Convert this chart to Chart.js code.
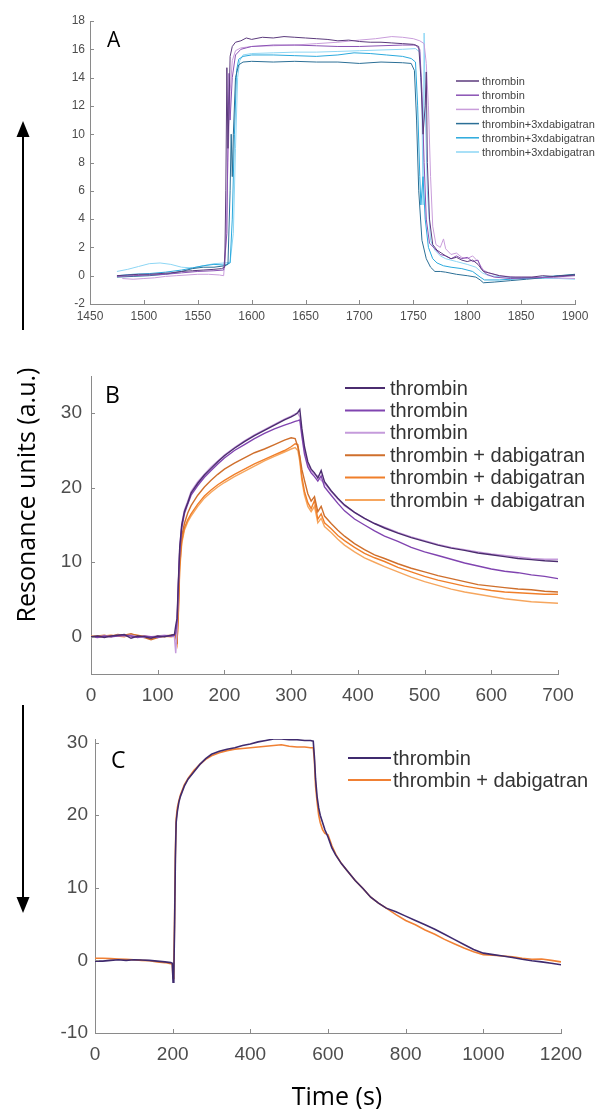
<!DOCTYPE html>
<html>
<head>
<meta charset="utf-8">
<script src="https://cdn.jsdelivr.net/npm/chart.js@4.4.1/dist/chart.umd.min.js"></script>
<style>
  body { margin: 0; background: #fff; }
  #page { position: relative; width: 601px; height: 1109px; overflow: hidden; background: #fff; }
  canvas.panel { position: absolute; left: 0; }
  .title { position: absolute; font-family: "Open Sans", sans-serif; color: #000; white-space: nowrap; line-height: 1; }
  #ytitle { left: 25px; top: 495px; font-size: 25px; transform: translate(-50%, -50%) rotate(-90deg); }
  #xtitle { left: 337px; top: 1095px; font-size: 25px; transform: translate(-50%, -50%); }
</style>
</head>
<body>
<div id="page">
  <canvas id="chartA" class="panel" width="601" height="335" style="top:0px"></canvas>
  <canvas id="chartB" class="panel" width="601" height="370" style="top:340px"></canvas>
  <canvas id="chartC" class="panel" width="601" height="350" style="top:720px"></canvas>
  <svg width="601" height="1109" style="position:absolute;left:0;top:0;pointer-events:none">
    <line x1="23" y1="330" x2="23" y2="134" stroke="#000" stroke-width="2"/>
    <polygon points="23,121 16.5,137 29.5,137" fill="#000"/>
    <line x1="23" y1="705" x2="23" y2="900" stroke="#000" stroke-width="2"/>
    <polygon points="23,913 16.5,897 29.5,897" fill="#000"/>
  </svg>
  <div class="title" id="ytitle">Resonance units (a.u.)</div>
  <div class="title" id="xtitle">Time (s)</div>
</div>
<script>
// ---- panel A: [time, response] ----
const thrombinA1 = [[1475,0.0],[1485,0.05],[1495,0.1],[1505,0.1],[1515,0.15],[1525,0.2],[1535,0.3],[1545,0.35],[1555,0.4],[1565,0.45],[1572,0.5],[1575,0.6],[1576,6],[1577,14.7],[1578,9],[1579,12],[1580,15.5],[1582,16.2],[1585,16.5],[1590,16.6],[1595,16.8],[1600,16.7],[1610,16.85],[1620,16.8],[1630,16.9],[1640,16.85],[1650,16.8],[1660,16.75],[1670,16.7],[1680,16.6],[1690,16.65],[1700,16.55],[1710,16.5],[1720,16.5],[1730,16.45],[1740,16.4],[1750,16.35],[1755,16.2],[1757,14],[1759,10],[1761,12],[1762,14.4],[1763,8],[1765,4],[1768,2.2],[1772,1.8],[1776,1.6],[1780,1.4],[1785,1.2],[1790,1.3],[1795,1.1],[1800,1.0],[1805,1.1],[1810,0.8],[1815,0.3],[1820,0.2],[1830,0.0],[1840,-0.1],[1850,-0.1],[1860,-0.1],[1870,0.0],[1880,-0.05],[1890,0.0],[1900,0.05]];
const thrombinA2 = [[1475,-0.05],[1490,0.0],[1505,0.05],[1520,0.1],[1535,0.2],[1550,0.3],[1565,0.35],[1574,0.4],[1577,3],[1578,10],[1579,14.3],[1580,11],[1582,14],[1585,15.6],[1590,16.0],[1595,16.1],[1600,16.2],[1620,16.3],[1640,16.3],[1660,16.25],[1680,16.2],[1700,16.2],[1720,16.25],[1740,16.3],[1752,16.3],[1756,16.0],[1758,13],[1760,8],[1762,4],[1765,2.3],[1770,1.9],[1775,1.5],[1780,1.4],[1785,1.2],[1790,1.4],[1795,1.2],[1800,1.3],[1805,1.0],[1810,1.1],[1813,0.5],[1818,0.1],[1825,-0.1],[1840,-0.2],[1860,-0.15],[1880,-0.1],[1900,0.0]];
const thrombinA3 = [[1480,-0.2],[1490,-0.25],[1500,-0.2],[1510,-0.15],[1520,-0.05],[1530,0.0],[1540,0.05],[1550,0.1],[1560,0.1],[1570,0.05],[1574,0.0],[1576,2],[1578,8],[1580,13],[1582,15.2],[1585,15.9],[1590,16.1],[1600,16.2],[1620,16.25],[1640,16.3],[1660,16.4],[1680,16.5],[1700,16.65],[1715,16.75],[1730,16.9],[1740,16.85],[1750,16.75],[1756,16.6],[1760,16.4],[1762,15],[1764,12],[1766,7],[1768,3.5],[1771,2.2],[1775,2.0],[1778,2.6],[1780,1.9],[1785,1.5],[1790,1.6],[1795,1.3],[1800,1.2],[1805,1.4],[1810,1.0],[1815,0.4],[1820,0.2],[1830,0.0],[1845,-0.1],[1860,-0.1],[1880,-0.15],[1900,-0.2]];
const dabigA1 = [[1475,-0.1],[1490,-0.05],[1505,0.0],[1520,0.1],[1535,0.3],[1545,0.5],[1555,0.6],[1565,0.6],[1575,0.7],[1578,0.8],[1580,6],[1581,10.0],[1582,7],[1583,10],[1585,14],[1588,14.9],[1592,15.1],[1600,15.15],[1620,15.1],[1640,15.15],[1660,15.1],[1680,15.1],[1700,15.0],[1720,15.1],[1740,15.05],[1748,15.0],[1751,14.5],[1753,11],[1755,6],[1758,2.5],[1762,1.2],[1766,0.6],[1770,0.3],[1775,0.3],[1780,0.25],[1790,0.1],[1800,0.0],[1808,-0.1],[1812,-0.3],[1815,-0.5],[1825,-0.45],[1840,-0.35],[1855,-0.25],[1870,-0.15],[1885,0.0],[1900,0.1]];
const dabigA2 = [[1475,0.0],[1490,0.1],[1505,0.15],[1520,0.25],[1535,0.4],[1545,0.55],[1555,0.7],[1565,0.8],[1575,0.75],[1580,0.9],[1582,4],[1584,10],[1586,14.5],[1588,15.3],[1592,15.5],[1600,15.6],[1620,15.6],[1640,15.55],[1660,15.5],[1680,15.6],[1695,15.75],[1710,15.7],[1725,15.6],[1740,15.5],[1748,15.35],[1752,15.1],[1754,12],[1756,7],[1757,5.0],[1759,7],[1761,4],[1764,2],[1768,1.2],[1772,0.9],[1778,0.7],[1785,0.6],[1795,0.5],[1805,0.3],[1812,-0.1],[1816,-0.3],[1830,-0.3],[1850,-0.2],[1870,-0.1],[1885,0.0],[1900,0.05]];
const dabigA3 = [[1475,0.3],[1485,0.45],[1495,0.65],[1505,0.85],[1515,0.9],[1525,0.8],[1535,0.6],[1545,0.55],[1555,0.7],[1565,0.85],[1575,0.9],[1580,0.95],[1583,3],[1585,9],[1587,14],[1589,15.2],[1592,15.6],[1600,15.7],[1620,15.75],[1640,15.8],[1660,15.8],[1680,15.85],[1700,15.9],[1720,15.95],[1740,16.0],[1752,16.05],[1756,15.8],[1758,12],[1759,5],[1760,17.15],[1761,12],[1763,6],[1766,2.5],[1770,1.8],[1775,1.4],[1780,1.2],[1790,1.0],[1800,0.8],[1808,0.6],[1814,0.2],[1820,0.0],[1835,-0.1],[1850,-0.15],[1870,-0.2],[1885,-0.2],[1900,-0.25]];

// ---- panel B ----
const timeB = [0,10,20,30,40,50,60,70,80,90,100,110,120,125,127,129,131,133,136,140,145,150,160,170,180,190,200,215,230,245,260,275,290,300,306,310,313,316,320,325,330,335,340,345,350,360,370,380,395,410,425,440,460,480,500,520,540,560,580,600,620,640,660,680,700];
const thrombinB1 = [0.0,0.1,-0.1,0.1,0.2,0.3,-0.2,0.1,0.0,-0.2,0.1,0.0,0.2, 0.3,1.5,2.5,7.5,12.0,15.0,16.8,18.0,19.3, 20.6,21.7,22.6,23.5,24.3, 25.3,26.2,27.0,27.7,28.4,29.1, 29.5,29.8,30.1,30.5,28.0,25.5,23.5,22.5,22.0,21.3,22.3,20.8, 19.6,18.6,17.7,16.7,15.9,15.2,14.6, 13.9,13.3,12.8,12.3,11.9,11.6,11.25,11.0,10.75,10.5,10.35,10.2,10.1];
const thrombinB2 = [0.0,-0.1,0.1,0.0,0.1,0.2,0.1,-0.1,0.1,0.0,-0.1,0.1,0.1, 0.2,0.5,2.0,7.0,11.5,14.6,16.5,17.8,19.0, 20.3,21.4,22.3,23.2,24.0, 25.0,25.8,26.6,27.3,27.9,28.4, 28.7,28.9,29.0,29.1,27.0,24.5,22.8,22.0,21.5,20.9,21.6,20.1, 19.0,17.9,16.9,15.8,15.0,14.2,13.5, 12.8,12.0,11.4,10.9,10.4,9.9,9.5,9.1,8.8,8.6,8.3,8.1,7.8];
const thrombinB3 = [-0.1,0.0,0.1,0.0,0.2,0.1,0.2,0.0,-0.1,0.0,0.1,0.2,0.1, 0.0,-2.2,1.0,7.0,12.0,15.2,17.0,18.2,19.5, 20.8,21.8,22.8,23.6,24.4, 25.4,26.3,27.1,27.8,28.5,29.2, 29.6,29.9,30.0,29.5,27.5,25.0,23.2,22.3,21.8,21.6,21.0,20.6, 19.5,18.5,17.6,16.7,15.9,15.2,14.7, 14.0,13.4,12.9,12.4,12.0,11.7,11.4,11.1,10.9,10.7,10.5,10.4,10.4];
const dabigB1 = [0.0,0.1,0.2,0.0,0.3,0.2,0.4,0.1,-0.1,-0.4,-0.1,0.1,0.2, 0.3,0.1,-1.0,4.5,10.5,13.5,15.2,16.6,17.6, 19.0,20.1,21.0,21.8,22.5, 23.3,24.0,24.7,25.2,25.8,26.4, 26.7,26.6,25.5,24.2,22.5,21.0,19.2,18.2,18.8,16.8,17.5,16.2, 15.2,14.3,13.5,12.5,11.7,11.0,10.5, 9.8,9.2,8.7,8.2,7.8,7.4,7.0,6.8,6.6,6.4,6.3,6.1,6.0];
const dabigB2 = [0.0,0.0,0.1,0.2,0.1,0.0,0.3,0.2,0.0,-0.2,0.0,0.1,0.0, 0.1,0.3,-0.8,3.5,9.5,12.8,14.6,15.7,16.5, 17.8,18.9,19.7,20.4,21.0, 21.8,22.5,23.2,23.8,24.4,25.0, 25.5,25.9,25.8,24.0,21.5,19.5,18.0,17.2,18.3,15.8,16.5,15.3, 14.5,13.6,12.9,12.0,11.2,10.6,10.1, 9.3,8.7,8.1,7.6,7.2,6.8,6.5,6.2,6.0,5.9,5.8,5.7,5.7];
const dabigB3 = [0.1,0.0,0.0,0.1,0.2,0.1,0.2,0.0,0.1,-0.1,0.1,0.0,0.1, 0.2,0.0,-0.5,3.0,9.0,12.5,14.3,15.4,16.2, 17.5,18.6,19.4,20.1,20.7, 21.5,22.2,22.9,23.6,24.2,24.8, 25.2,25.4,25.0,23.5,21.0,19.0,17.5,16.8,17.5,15.3,15.9,14.8, 14.0,13.1,12.3,11.4,10.6,10.0,9.4, 8.7,8.0,7.4,6.9,6.4,6.0,5.7,5.4,5.1,4.9,4.7,4.6,4.5];

// ---- panel C ----
const timeC = [0,20,40,60,80,100,120,140,160,180,195,199,201,203,205,207,209,212,216,220,230,240,255,270,285,300,320,340,360,380,400,420,440,460,480,500,520,540,555,562,565,568,572,576,580,586,592,600,610,620,635,650,670,690,710,730,750,775,800,825,850,875,900,925,950,975,1000,1025,1050,1075,1100,1125,1150,1175,1200];
const thrombinC = [-0.1,-0.1,0.0,0.1,0.0,0.1,0.05,0.0,-0.1,-0.2, -0.3,-0.4,-3.0,-2.0,5.0,14.0,19.0,20.5,21.8,22.6, 24.0,25.0,26.0,27.0,27.8,28.4, 28.8,29.1,29.3,29.6,29.8,30.1,30.3,30.5,30.5,30.4,30.4,30.3, 30.3,30.2,28.0,25.0,22.5,21.0,20.0,19.0,18.0,17.0, 15.5,14.5,13.3,12.3,11.0,9.9,8.7,7.9,7.2, 6.7,6.1,5.5,4.9,4.3,3.6,2.9,2.2,1.5,1.0,0.8,0.6,0.4,0.15,-0.05,-0.2,-0.4,-0.6];
const dabigC = [0.3,0.3,0.25,0.2,0.15,0.1,0.0,-0.05,-0.2,-0.3, -0.45,-0.5,-2.5,-1.0,6.0,15.0,19.5,21.0,22.0,22.8, 24.2,25.1,26.2,27.0,27.7,28.2, 28.6,28.9,29.1,29.2,29.3,29.4,29.5,29.6,29.7,29.5,29.4,29.4, 29.3,29.3,27.5,24.0,21.8,20.0,19.0,18.0,17.5,17.3, 15.8,14.6,13.3,12.3,11.0,9.9,8.7,7.9,7.2, 6.3,5.5,4.9,4.2,3.6,2.9,2.3,1.7,1.2,0.8,0.7,0.6,0.5,0.3,0.15,0.2,0.0,-0.2];

// ---- tick labels ----
const ticksAX = [1450,1500,1550,1600,1650,1700,1750,1800,1850,1900];
const ticksAY = [-2,0,2,4,6,8,10,12,14,16,18];
const ticksBX = [0,100,200,300,400,500,600,700];
const ticksBY = [0,10,20,30];
const ticksCX = [0,200,400,600,800,1000,1200];
const ticksCY = [-10,0,10,20,30];

const labelThrombin = 'thrombin';
const labelDabigA = 'thrombin+3xdabigatran';
const labelDabig = 'thrombin + dabigatran';

const AXIS_COLOR = '#8a8a8a';
const TICK_COLOR = '#4d4d4d';
const TICK_FONT = '"Liberation Sans", Arial, sans-serif';

// letters, legends and inward tick marks
const decorPlugin = {
    id: 'decor',
    afterDraw(chart, args, opts) {
        const ctx = chart.ctx;
        ctx.save();
        // inward ticks like the original plots
        const xs = chart.scales.x, ys = chart.scales.y;
        ctx.strokeStyle = AXIS_COLOR;
        ctx.lineWidth = 1;
        ctx.beginPath();
        xs.ticks.forEach(t => {
            const px = Math.round(xs.getPixelForValue(t.value)) + 0.5;
            ctx.moveTo(px, xs.top);
            ctx.lineTo(px, xs.top - opts.tick);
        });
        ys.ticks.forEach(t => {
            const py = Math.round(ys.getPixelForValue(t.value)) + 0.5;
            ctx.moveTo(ys.right, py);
            ctx.lineTo(ys.right + opts.tick, py);
        });
        ctx.stroke();

        // panel letter
        ctx.fillStyle = '#000';
        ctx.font = opts.letter.size + 'px "Open Sans", sans-serif';
        ctx.textBaseline = 'alphabetic';
        ctx.textAlign = 'left';
        ctx.fillText(opts.letter.text, opts.letter.x, opts.letter.y);

        // legend
        const lg = opts.legend;
        ctx.font = lg.size + 'px ' + TICK_FONT;
        ctx.textBaseline = 'middle';
        chart.data.datasets.forEach((ds, i) => {
            const y = lg.y0 + i * lg.dy;
            ctx.strokeStyle = ds.borderColor;
            ctx.lineWidth = lg.lw;
            ctx.beginPath();
            ctx.moveTo(lg.x0, y);
            ctx.lineTo(lg.x1, y);
            ctx.stroke();
            ctx.fillStyle = lg.color;
            ctx.fillText(ds.label, lg.tx, y + 1);
        });
        ctx.restore();
    }
};

function pairs(times, values) {
    return times.map((t, i) => [t, values[i]]);
}

function makeChart(id, cfg) {
    const axis = (min, max, ticks, size, pad, pos) => ({
        type: 'linear',
        position: pos,
        min: min,
        max: max,
        afterBuildTicks: s => { s.ticks = ticks.map(v => ({ value: v })); },
        afterFit: s => {
            if (pos === 'left') s.width = cfg.yWidth; else s.height = cfg.xHeight;
        },
        grid: { display: false, drawTicks: false },
        border: { display: true, color: AXIS_COLOR, width: 1 },
        ticks: {
            color: TICK_COLOR,
            font: { family: TICK_FONT, size: size },
            padding: pad,
            maxRotation: 0,
            autoSkip: false,
            callback: v => String(v)
        }
    });
    return new Chart(document.getElementById(id), {
        type: 'line',
        data: {
            datasets: cfg.series.map(s => ({
                label: s.label,
                data: s.data,
                borderColor: s.color,
                borderWidth: cfg.lw,
                pointRadius: 0,
                tension: 0,
                fill: false
            }))
        },
        options: {
            responsive: false,
            animation: false,
            events: [],
            layout: { padding: cfg.padding },
            plugins: {
                legend: { display: false },
                tooltip: { enabled: false },
                decor: { letter: cfg.letter, legend: cfg.legend, tick: cfg.tick }
            },
            scales: {
                x: axis(cfg.x[0], cfg.x[1], cfg.x[2], cfg.fontSize, cfg.xPad, 'bottom'),
                y: axis(cfg.y[0], cfg.y[1], cfg.y[2], cfg.fontSize, cfg.yPad, 'left')
            }
        },
        plugins: [decorPlugin]
    });
}

makeChart('chartA', {
    series: [
        { label: labelThrombin, data: thrombinA1, color: '#5b3a7c' },
        { label: labelThrombin, data: thrombinA2, color: '#8a52b4' },
        { label: labelThrombin, data: thrombinA3, color: '#c99ddb' },
        { label: labelDabigA, data: dabigA1, color: '#2b6f96' },
        { label: labelDabigA, data: dabigA2, color: '#2aa9dd' },
        { label: labelDabigA, data: dabigA3, color: '#8dd6f4' }
    ],
    lw: 1,
    x: [1450, 1900, ticksAX], y: [-2, 18, ticksAY],
    fontSize: 12, xPad: 5, yPad: 5, tick: 4,
    yWidth: 40, xHeight: 31,
    padding: { left: 50, right: 26, top: 21, bottom: 0 },
    letter: { text: 'A', x: 107, y: 47, size: 21 },
    legend: { x0: 456, x1: 479, tx: 482, y0: 81, dy: 14.2, size: 11, lw: 1.5, color: '#444' }
});

makeChart('chartB', {
    series: [
        { label: labelThrombin, data: pairs(timeB, thrombinB1), color: '#4b2c6f' },
        { label: labelThrombin, data: pairs(timeB, thrombinB2), color: '#8044b0' },
        { label: labelThrombin, data: pairs(timeB, thrombinB3), color: '#c59bdb' },
        { label: labelDabig, data: pairs(timeB, dabigB1), color: '#cf6f2c' },
        { label: labelDabig, data: pairs(timeB, dabigB2), color: '#f07f2a' },
        { label: labelDabig, data: pairs(timeB, dabigB3), color: '#f6a65e' }
    ],
    lw: 1.4,
    x: [0, 700, ticksBX], y: [-5, 35, ticksBY],
    fontSize: 19, xPad: 10, yPad: 9, tick: 4,
    yWidth: 50, xHeight: 36,
    padding: { left: 41, right: 43, top: 36, bottom: 0 },
    letter: { text: 'B', x: 105, y: 63, size: 23 },
    legend: { x0: 345, x1: 385, tx: 390, y0: 48, dy: 22.4, size: 20, lw: 2, color: '#333' }
});

makeChart('chartC', {
    series: [
        { label: labelThrombin, data: pairs(timeC, thrombinC), color: '#3f2a6e' },
        { label: labelDabig, data: pairs(timeC, dabigC), color: '#f08034' }
    ],
    lw: 1.6,
    x: [0, 1200, ticksCX], y: [-10, 30.5, ticksCY],
    fontSize: 19, xPad: 10, yPad: 7, tick: 4,
    yWidth: 50, xHeight: 37,
    padding: { left: 45, right: 40, top: 19, bottom: 0 },
    letter: { text: 'C', x: 111, y: 48, size: 23 },
    legend: { x0: 348, x1: 391, tx: 393, y0: 38, dy: 22, size: 20, lw: 2, color: '#333' }
});
</script>
</body>
</html>
